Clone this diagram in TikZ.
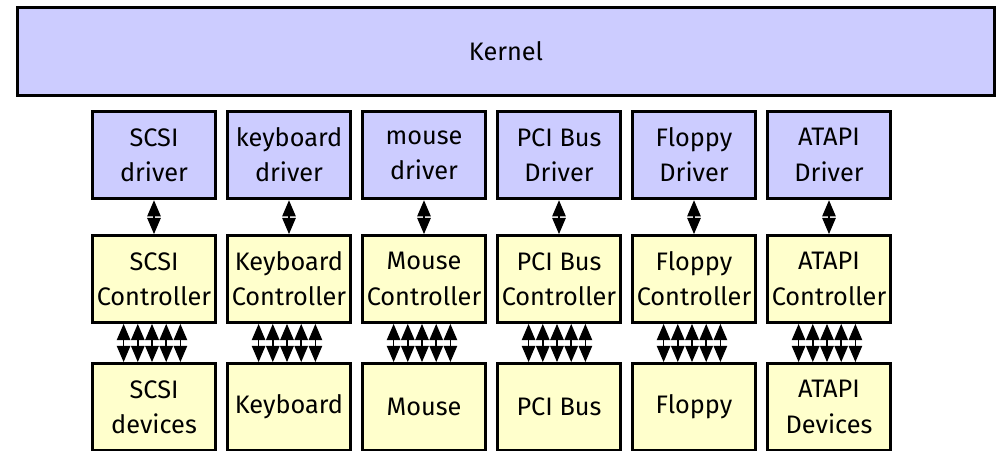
\documentclass[tikz,border=0pt]{standalone}
\usepackage{fontspec}
\setmainfont{Fira Sans}
\usetikzlibrary{arrows.meta}
\definecolor{drvblue}{RGB}{204,204,255}
\definecolor{ctlyellow}{RGB}{255,255,204}
\begin{document}
\begin{tikzpicture}[x=0.025cm, y=-0.025cm,
    box/.style={draw, line width=2.4pt, align=center, inner sep=0pt,
        font=\fontsize{18}{25}\selectfont},
    drvbox/.style={box, fill=drvblue, minimum width=3.075cm, minimum height=2.175cm},
    ctlbox/.style={box, fill=ctlyellow, minimum width=3.075cm, minimum height=2.16cm},
    link/.style={{Triangle[length=11.5pt,width=9.5pt]}-{Triangle[length=11.5pt,width=9.5pt]}, line width=1.1pt}]

    \useasboundingbox (0,0) rectangle (1002,451);

    % ===== Kernel =====
    \node[box, fill=drvblue, minimum width=24.425cm, minimum height=2.2cm] (kernel) at (506,51.5) {Kernel};

    % ===== Driver / controller / device columns =====
    \foreach \i/\drv/\ctl/\dev in {
        0/{SCSI\\driver}/{SCSI\\Controller}/{SCSI\\devices},
        1/{keyboard\\driver}/{Keyboard\\Controller}/{Keyboard},
        2/{mouse\\driver}/{Mouse\\Controller}/{Mouse},
        3/{PCI Bus\\Driver}/{PCI Bus\\Controller}/{PCI Bus},
        4/{Floppy\\Driver}/{Floppy\\Controller}/{Floppy},
        5/{ATAPI\\Driver}/{ATAPI\\Controller}/{ATAPI\\Devices}} {
        \node[drvbox] (drv\i) at ({154+135*\i},155) {\drv};
        \node[ctlbox] (ctl\i) at ({154+135*\i},279) {\ctl};
        \node[ctlbox] (dev\i) at ({154+135*\i},407) {\dev};
        % driver <-> controller
        \draw[link] (drv\i) -- (ctl\i);
        % controller <-> devices (five lines)
        \foreach \k in {-2,...,2} {
            \draw[link] ([xshift=\k*0.355cm-0.05cm]ctl\i.south) -- ([xshift=\k*0.355cm-0.05cm]dev\i.north);
        }
    }

\end{tikzpicture}
\end{document}
